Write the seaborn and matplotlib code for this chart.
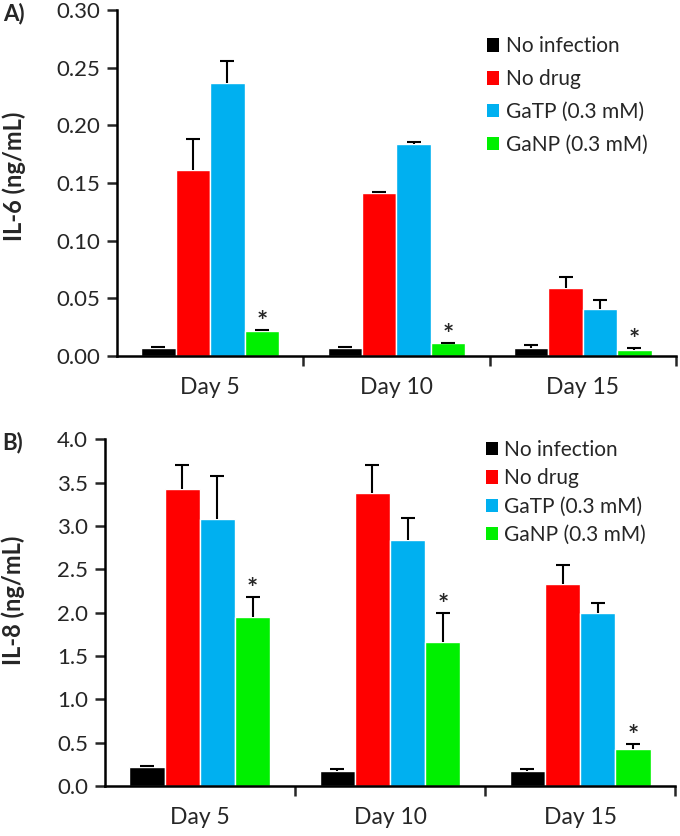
import numpy as np
import pandas as pd
import seaborn as sns
import matplotlib
import matplotlib.pyplot as plt

matplotlib.use('Agg')

days = ['Day 5', 'Day 10', 'Day 15']
groups = ['No infection', 'No drug', 'GaTP (0.3 mM)', 'GaNP (0.3 mM)']
colors = ['#000000', '#ff0000', '#00b0f0', '#00f000']

# IL-6 (ng/mL), rows = groups, cols = days
il6_mean = [[0.007, 0.007, 0.007],
            [0.161, 0.141, 0.059],
            [0.237, 0.184, 0.041],
            [0.022, 0.011, 0.005]]
il6_err = [[0.0005, 0.001, 0.003],
           [0.027, 0.001, 0.010],
           [0.019, 0.0015, 0.008],
           [0.001, 0.0007, 0.002]]

# IL-8 (ng/mL)
il8_mean = [[0.22, 0.17, 0.17],
            [3.43, 3.38, 2.33],
            [3.08, 2.84, 1.99],
            [1.95, 1.66, 0.43]]
il8_err = [[0.01, 0.02, 0.03],
           [0.27, 0.32, 0.22],
           [0.50, 0.25, 0.12],
           [0.23, 0.34, 0.05]]

# which group gets the significance star
star_group = 'GaNP (0.3 mM)'

FS = 15


def make_frame(means, errs):
    rows = []
    for g, m_row, e_row in zip(groups, means, errs):
        for d, m, e in zip(days, m_row, e_row):
            rows.append({'day': d, 'group': g, 'value': m, 'err': e})
    return pd.DataFrame(rows)


def draw_panel(ax, df, ylim, yticks, fmt, ylabel, label_xy, legend_anchor, labelspacing):
    sns.barplot(data=df, x='day', y='value', hue='group', order=days, hue_order=groups,
                palette=colors, errorbar=None, width=0.74, saturation=1,
                edgecolor='white', linewidth=1.0, ax=ax)

    # upper-only error bars (no cap at the bar top) and stars
    for g, container in zip(groups, ax.containers):
        sub = df[df['group'] == g].set_index('day').loc[days]
        for bar, m, e in zip(container, sub['value'], sub['err']):
            xc = bar.get_x() + bar.get_width() / 2
            ax.plot([xc, xc], [m, m + e], color='black', lw=1.5, zorder=3,
                    solid_capstyle='butt')
            ax.plot([xc], [m + e], marker='_', markersize=10, mew=1.5,
                    color='black', zorder=3)
            if g == star_group:
                ax.annotate('*', (xc, m + e), xytext=(0, -3), textcoords='offset points',
                            ha='center', va='bottom', fontsize=19, fontweight='bold')

    ax.set_xlim(-0.5, 2.5)
    ax.set_ylim(*ylim)
    ax.set_yticks(yticks)
    ax.set_yticklabels([fmt.format(t) for t in yticks])
    ax.set_xticks(range(len(days)))
    ax.set_xticklabels(days)
    ax.set_xticks([0.5, 1.5, 2.5], minor=True)
    ax.tick_params(axis='x', which='major', length=0, pad=15, labelsize=16.5)
    ax.tick_params(axis='x', which='minor', length=7, width=1.8, direction='out')
    ax.tick_params(axis='y', length=7, width=1.8, direction='out', labelsize=16, pad=5)
    ax.set_xlabel('')
    ax.set_ylabel(ylabel, fontsize=17, fontweight='bold')
    ax.yaxis.set_label_coords(*label_xy)
    for side in ['left', 'bottom']:
        ax.spines[side].set_linewidth(1.8)
        ax.spines[side].set_color('black')
    sns.despine(ax=ax)

    leg = ax.legend(loc='upper left', bbox_to_anchor=legend_anchor, frameon=False,
                    fontsize=FS, handlelength=0.6, handleheight=0.6, handletextpad=0.3,
                    labelspacing=labelspacing, borderaxespad=0)
    for h in leg.legend_handles:
        h.set_edgecolor('none')


sns.set_theme(style='ticks')
plt.rcParams['font.family'] = ['Lato', 'DejaVu Sans']

fig = plt.figure(figsize=(6.8, 8.36), dpi=100)
ax1 = fig.add_axes([0.172, 0.574, 0.822, 0.414])
ax2 = fig.add_axes([0.154, 0.060, 0.839, 0.4145])

draw_panel(ax1, make_frame(il6_mean, il6_err), (0, 0.30), np.arange(0, 0.301, 0.05),
           '{:.2f}', 'IL-6 (ng/mL)', (-0.163, 0.52), (0.647, 0.948), 0.62)
draw_panel(ax2, make_frame(il8_mean, il8_err), (0, 4.0), np.arange(0, 4.01, 0.5),
           '{:.1f}', 'IL-8 (ng/mL)', (-0.139, 0.536), (0.653, 1.022), 0.4)

fig.text(0.004, 1 - 14 / 836, 'A)', fontsize=16, fontweight='bold', va='center')
fig.text(0.004, 1 - 443 / 836, 'B)', fontsize=16, fontweight='bold', va='center')

fig.savefig('out.png', dpi=100)
plt.close()
